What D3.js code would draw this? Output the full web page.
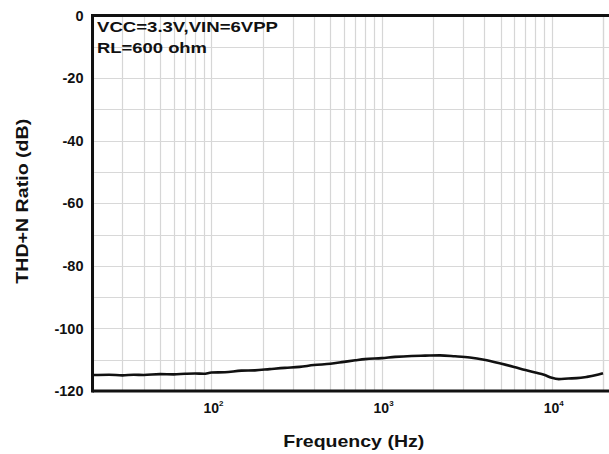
<!DOCTYPE html>
<html>
<head>
<meta charset="utf-8">
<script src="https://cdn.jsdelivr.net/npm/d3@7"></script>
<style>
html,body{margin:0;padding:0;background:#fff;}
svg{display:block;}
text{font-family:"Liberation Sans",Arial,sans-serif;font-weight:bold;fill:#111;}
</style>
</head>
<body>
<svg id="chart" width="609" height="454"></svg>
<script>
// ---- data ----
const freqHz = [20, 25, 30, 35, 40, 50, 60, 70, 80, 90, 100, 120, 150, 180, 220, 270, 330, 400, 500, 600, 700, 800, 1000, 1200, 1500, 1800, 2200, 2700, 3300, 4000, 5000, 6000, 7000, 8000, 9000, 10000, 11000, 12500, 14000, 16000, 18000, 20000];
const thdN = [-114.9, -114.8, -115.0, -114.8, -114.9, -114.6, -114.7, -114.5, -114.4, -114.5, -114.1, -114.0, -113.5, -113.4, -113.0, -112.6, -112.3, -111.7, -111.3, -110.7, -110.2, -109.8, -109.5, -109.1, -108.8, -108.7, -108.6, -108.9, -109.3, -110.0, -111.2, -112.3, -113.3, -114.1, -114.8, -115.8, -116.2, -116.0, -115.9, -115.5, -115.0, -114.3];
const yTicks = [0, -20, -40, -60, -80, -100, -120];
const xMajorTicks = [100, 1000, 10000];
const xMajorExp = ["2", "3", "4"];
const annotationLines = ["VCC=3.3V,VIN=6VPP", "RL=600 ohm"];
const xTitle = "Frequency (Hz)";
const yTitle = "THD+N Ratio (dB)";

// ---- layout ----
const L = 92.5, R = 603, T = 15.5, B = 391;
const svg = d3.select("#chart");
const x = d3.scaleLog().domain([20, 20000]).range([L, R]);
const y = d3.scaleLinear().domain([-120, 0]).range([B, T]);

// grid
const minor = [];
for (let d = 10; d <= 10000; d *= 10) for (let k = 1; k <= 9; k++) { const v = d * k; if (v >= 20 && v <= 20000) minor.push(v); }
minor.push(20000);
const g = svg.append("g");
g.selectAll("line.vx").data(minor).join("line")
  .attr("x1", d => Math.round(x(d)) + 0.5).attr("x2", d => Math.round(x(d)) + 0.5)
  .attr("y1", T).attr("y2", B).attr("stroke", "#d6d6d6").attr("stroke-width", 1.2);
const hGrid = d3.range(-110, 0, 10);
g.selectAll("line.hy").data(hGrid).join("line")
  .attr("x1", L).attr("x2", 609)
  .attr("y1", d => Math.round(y(d)) + 0.5).attr("y2", d => Math.round(y(d)) + 0.5)
  .attr("stroke", "#d8d8d8").attr("stroke-width", 1.2);

// curve
const line = d3.line().x((d, i) => x(freqHz[i])).y(d => y(d)).curve(d3.curveMonotoneX);
svg.append("path").datum(thdN).attr("d", line)
  .attr("fill", "none").attr("stroke", "#111").attr("stroke-width", 2.6).attr("stroke-linejoin", "round");

// frame
svg.append("line").attr("x1", L).attr("x2", 609).attr("y1", T).attr("y2", T).attr("stroke", "#111").attr("stroke-width", 3);
svg.append("line").attr("x1", L).attr("x2", 609).attr("y1", B).attr("y2", B).attr("stroke", "#111").attr("stroke-width", 3);
svg.append("line").attr("x1", L).attr("x2", L).attr("y1", T - 1.5).attr("y2", B + 1.5).attr("stroke", "#111").attr("stroke-width", 3);

// y axis
const yAxis = d3.axisLeft(y).tickValues(yTicks).tickSize(0).tickPadding(9).tickFormat(d => String(d));
const ya = svg.append("g").attr("transform", `translate(${L},0)`).call(yAxis);
ya.select(".domain").remove();
ya.selectAll("text").style("font-size", "14.5px").style("font-family", '"Liberation Sans",Arial,sans-serif').style("font-weight", "bold").attr("fill", "#111");

// x axis with superscripts
const xa = svg.append("g");
const xl = xa.selectAll("text").data(xMajorTicks).join("text")
  .attr("x", d => x(d) + 2).attr("y", 413).attr("text-anchor", "middle").style("font-size", "14px");
xl.append("tspan").text("10");
xl.append("tspan").text((d, i) => xMajorExp[i]).attr("dy", -7).style("font-size", "8px");

// annotation
svg.selectAll("text.ann").data(annotationLines).join("text").attr("class", "ann")
  .attr("x", 97).attr("y", (d, i) => 32 + i * 21).style("font-size", "15.5px")
  .attr("textLength", (d, i) => [181, 110][i]).attr("lengthAdjust", "spacingAndGlyphs")
  .text(d => d);

// titles
svg.append("text").attr("x", (L + R) / 2 + 6).attr("y", 447).attr("text-anchor", "middle")
  .style("font-size", "17px").attr("textLength", 141).attr("lengthAdjust", "spacingAndGlyphs").text(xTitle);
svg.append("text").attr("transform", `translate(28,${(T + B) / 2 - 2}) rotate(-90)`).attr("text-anchor", "middle")
  .style("font-size", "17px").attr("textLength", 165).attr("lengthAdjust", "spacingAndGlyphs").text(yTitle);
</script>
</body>
</html>
